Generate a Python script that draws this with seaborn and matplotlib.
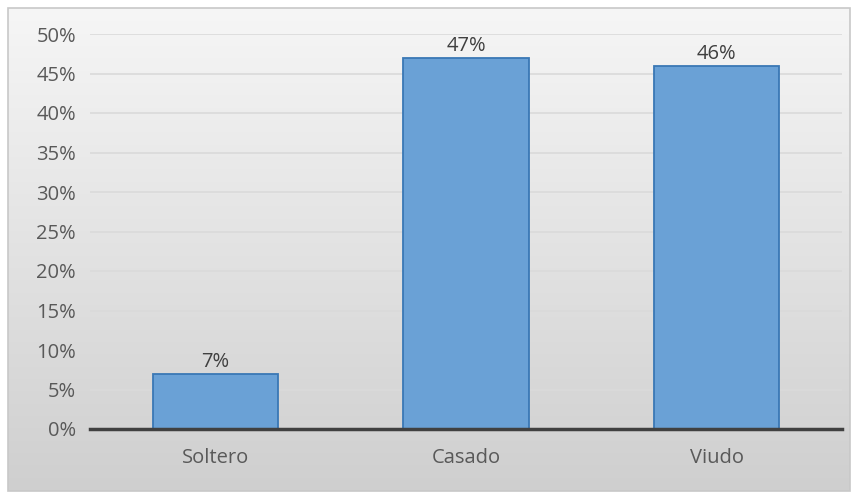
import numpy as np
import pandas as pd
import matplotlib
matplotlib.use("Agg")
import matplotlib.pyplot as plt
import seaborn as sns
from matplotlib.patches import Rectangle
from matplotlib.colors import LinearSegmentedColormap

categories = ["Soltero", "Casado", "Viudo"]
values = [7, 47, 46]
labels = ["7%", "47%", "46%"]
yticks = [0, 5, 10, 15, 20, 25, 30, 35, 40, 45, 50]

sns.set_style("white")
plt.rcParams['font.family'] = ['Open Sans', 'DejaVu Sans']

W, H = 857, 493
fig = plt.figure(figsize=(W / 100, H / 100), dpi=100)
fig.patch.set_facecolor("white")

# background gradient inside the chart border
bg = fig.add_axes([0, 0, 1, 1], zorder=0)
bg.set_xlim(0, W)
bg.set_ylim(H, 0)
bg.axis("off")
grad = np.linspace(0, 1, 256).reshape(-1, 1)
grad = np.hstack([grad, grad])
cmap = LinearSegmentedColormap.from_list("g", ["#f6f6f6", "#cfcfcf"])
bg.imshow(grad, cmap=cmap, extent=[8, 850, 491, 8], aspect="auto", interpolation="bicubic")
bg.add_patch(Rectangle((8, 8), 842, 483, fill=False, edgecolor="#c8c8c8", linewidth=1.2))

ax = fig.add_axes([90 / W, 1 - 429 / H, (842 - 90) / W, (429 - 34) / H], zorder=1)
ax.patch.set_alpha(0)

df = pd.DataFrame({"cat": categories, "val": values})
sns.barplot(data=df, x="cat", y="val", ax=ax, color="#6aa1d6", width=0.5,
            edgecolor="#3a78b5", linewidth=1.3, saturation=1, zorder=3)

ax.set_ylim(0, 50)
ax.set_yticks(yticks)
ax.set_yticklabels([f"{t}%" for t in yticks])
ax.set_xlim(-0.5, 2.5)
ax.set_xlabel("")
ax.set_ylabel("")
ax.grid(axis="y", color="#dadada", linewidth=1.2, zorder=0)
ax.set_axisbelow(True)
for s in ["top", "right", "left"]:
    ax.spines[s].set_visible(False)
ax.spines["bottom"].set_color("#404040")
ax.spines["bottom"].set_linewidth(2.5)
ax.spines["bottom"].set_zorder(4)
ax.tick_params(axis="both", length=0, labelsize=14.5, colors="#595959")
ax.tick_params(axis="y", pad=10)
ax.tick_params(axis="x", pad=14)

for i, (v, lab) in enumerate(zip(values, labels)):
    ax.text(i, v + 0.25, lab, ha="center", va="bottom", fontsize=14.5, color="#404040", zorder=5)

fig.savefig("out.png", dpi=100)
